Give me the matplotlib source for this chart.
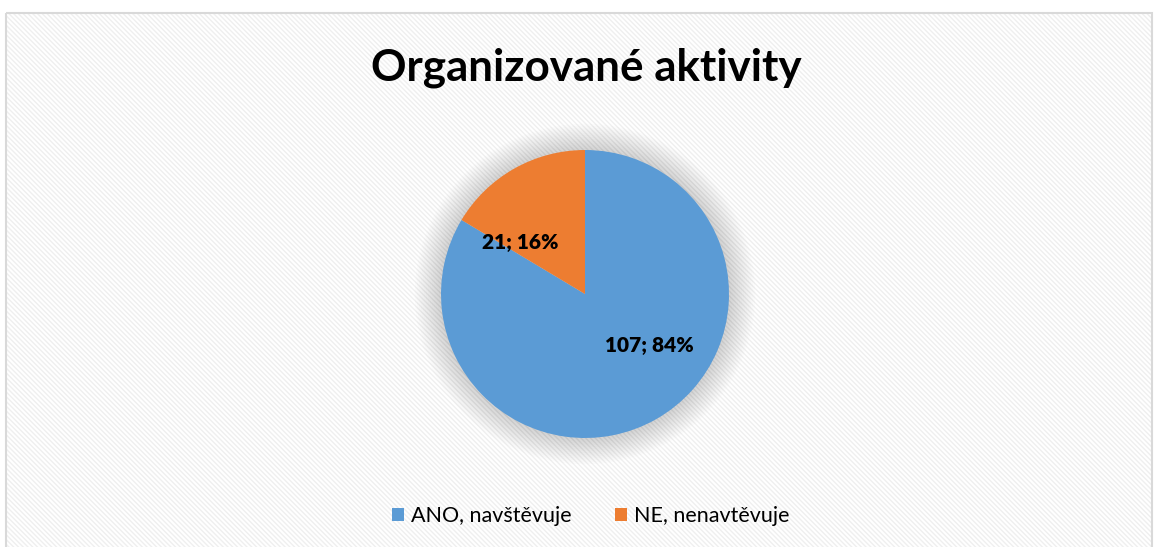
import numpy as np
import matplotlib
matplotlib.use("Agg")
import matplotlib.pyplot as plt
from matplotlib.patches import Rectangle, Circle

categories = ["ANO, navštěvuje", "NE, nenavtěvuje"]
values = [107, 21]
colors = ["#5b9bd5", "#ed7d31"]
title = "Organizované aktivity"

plt.rcParams['font.family'] = ['Lato', 'DejaVu Sans']
plt.rcParams['hatch.linewidth'] = 1.0
plt.rcParams['hatch.color'] = '#efefef'

W, H = 1155, 547
fig = plt.figure(figsize=(W / 100, H / 100), dpi=100)
fig.patch.set_facecolor('white')

# background axes carrying the patterned chart area
bax = fig.add_axes([0, 0, 1, 1], zorder=-5)
bax.set_xlim(0, W)
bax.set_ylim(H, 0)
bax.axis('off')
bax.add_patch(Rectangle((6, 13), W - 9, H, facecolor='white', edgecolor='#efefef',
                        hatch='\\' * 7, lw=0))
bax.add_patch(Rectangle((6, 13), W - 9, H + 5, facecolor='none', edgecolor='#d9d9d9',
                        lw=1.5, clip_on=False))

cx, cy, r = 585, 294, 144
ax = fig.add_axes([(cx - r) / W, (H - cy - r) / H, 2 * r / W, 2 * r / H], zorder=2)

# soft shadow
for i in range(14):
    rr = 1.0 + 0.013 * (14 - i)
    ax.add_patch(Circle((0.0, -0.0), rr, facecolor='#000000', alpha=0.012,
                        lw=0, clip_on=False, zorder=0))

wedges, _ = ax.pie(values, colors=colors, startangle=90, counterclock=False,
                   radius=1, wedgeprops=dict(lw=0))
ax.set_xlim(-1, 1)
ax.set_ylim(-1, 1)
ax.set_aspect('equal')
ax.axis('off')

total = sum(values)
for w, v in zip(wedges, values):
    mid = np.deg2rad((w.theta1 + w.theta2) / 2 + 22)
    d = 0.57
    ax.text(d * np.cos(mid), d * np.sin(mid), f"{v}; {round(100 * v / total)}%",
            ha='center', va='center', fontsize=15, fontweight='heavy', color='black', zorder=5)

fig.text(586 / W, 1 - 68 / H, title, ha='center', va='center', fontsize=31.7,
         fontweight='bold', color='black')

handles = [Rectangle((0, 0), 1, 1, facecolor=c, lw=0) for c in colors]
fig.legend(handles, categories, loc='center', bbox_to_anchor=(591 / W, 1 - 516 / H),
           ncol=2, frameon=False, fontsize=15.5, handlelength=0.55, handleheight=0.55,
           handletextpad=0.35, columnspacing=2.0)

fig.savefig('out.png', dpi=100, facecolor='white')
